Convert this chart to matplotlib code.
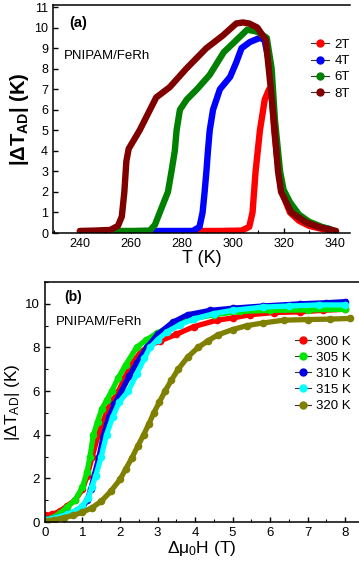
import matplotlib
matplotlib.use("Agg")
import matplotlib.pyplot as plt
from matplotlib.ticker import MultipleLocator
from matplotlib.lines import Line2D

plt.rcParams['font.family'] = ['Liberation Sans', 'DejaVu Sans']
plt.rcParams['mathtext.fontset'] = 'custom'
plt.rcParams['mathtext.rm'] = 'Liberation Sans'
plt.rcParams['mathtext.it'] = 'Liberation Sans:italic'
plt.rcParams['mathtext.bf'] = 'Liberation Sans:bold'

# panel (a): |dT_ad| vs T for several fields
a_labels = ["2T", "4T", "6T", "8T"]
a_colors = ["#ff0000", "#0000ff", "#008000", "#800000"]

t_2T = [284, 295, 303.5, 306.5, 307.8, 309, 310.7, 312.6, 314.3, 315.2, 316.3, 317.3, 318.4, 320, 322.5, 326, 330, 335, 340]
dt_2T = [0.1, 0.1, 0.12, 0.3, 1.0, 3.0, 5.0, 6.5, 7.0, 6.9, 5.0, 3.8, 2.8, 1.8, 1.0, 0.6, 0.35, 0.2, 0.1]

t_4T = [267.5, 276, 284.4, 287, 288.2, 289, 289.7, 290.3, 291, 292.3, 295, 299, 301.4, 303.5, 306.8, 310.7, 312.5, 314, 315.3, 316.5, 318, 319.5, 322.5, 326, 330, 334, 338]
dt_4T = [0.1, 0.1, 0.1, 0.3, 1.0, 2.0, 3.0, 4.0, 5.0, 6.0, 7.0, 7.6, 8.3, 9.0, 9.3, 9.5, 9.4, 8.5, 7.2, 5.2, 3.2, 2.1, 1.3, 0.8, 0.5, 0.3, 0.2]

t_6T = [254, 261, 267.5, 269.5, 271.4, 274.6, 276, 277.3, 278, 279.3, 282, 286, 291, 296.5, 302.4, 305.7, 309.7, 313.4, 315.3, 316.6, 318.6, 320, 322.5, 326, 330, 335, 339]
dt_6T = [0.1, 0.1, 0.12, 0.4, 1.0, 2.0, 3.0, 4.0, 5.0, 6.0, 6.5, 7.0, 7.7, 8.8, 9.5, 9.9, 9.8, 9.5, 8.0, 5.5, 3.0, 2.1, 1.5, 0.9, 0.55, 0.3, 0.15]

t_8T = [240, 246, 252, 255, 256.5, 257.5, 258.3, 259.2, 263.5, 270, 275.3, 281.8, 289.7, 296, 301.4, 304, 306.5, 309.7, 313, 315, 316.5, 317.8, 319, 323, 329, 335, 340.6]
dt_8T = [0.1, 0.12, 0.15, 0.35, 0.8, 2.0, 3.5, 4.1, 5.0, 6.6, 7.1, 8.0, 9.0, 9.6, 10.2, 10.25, 10.2, 10.0, 9.4, 7.0, 5.0, 3.0, 2.0, 1.0, 0.5, 0.25, 0.1]

# panel (b): |dT_ad| vs field change for several temperatures
b_labels = ["300 K", "305 K", "310 K", "315 K", "320 K"]
b_colors = ["#ff0000", "#00e600", "#0000e0", "#00ffff", "#808000"]

h_300 = [0.0, 0.2, 0.4, 0.6, 0.8, 1.0, 1.12, 1.26, 1.42, 1.55, 1.68, 1.82, 1.96, 2.12, 2.3, 2.55, 2.8, 3.07, 3.5, 3.96, 4.58, 5.0, 5.47, 6.1, 6.8, 7.4, 8.0]
v_300 = [0.3, 0.35, 0.5, 0.75, 1.0, 1.5, 2.1, 3.0, 4.0, 4.6, 5.2, 5.6, 6.0, 6.6, 7.2, 7.8, 8.1, 8.3, 8.6, 8.95, 9.25, 9.35, 9.5, 9.6, 9.63, 9.7, 9.75]

h_305 = [0.0, 0.2, 0.4, 0.6, 0.8, 1.0, 1.12, 1.2, 1.29, 1.4, 1.52, 1.65, 1.78, 1.95, 2.15, 2.44, 2.7, 2.98, 3.4, 3.9, 4.5, 5.2, 6.0, 7.0, 8.0]
v_305 = [0.1, 0.2, 0.4, 0.7, 1.0, 1.6, 2.3, 3.0, 4.0, 4.6, 5.2, 5.6, 6.0, 6.6, 7.2, 8.0, 8.35, 8.65, 9.0, 9.3, 9.5, 9.65, 9.7, 9.72, 9.75]

h_310 = [0.0, 0.3, 0.6, 0.84, 1.0, 1.12, 1.22, 1.32, 1.44, 1.56, 1.7, 1.85, 2.04, 2.25, 2.45, 2.71, 3.0, 3.4, 3.8, 4.4, 5.0, 5.8, 6.8, 7.5, 8.0]
v_310 = [0.1, 0.2, 0.35, 0.5, 0.65, 1.0, 1.5, 2.2, 3.0, 4.0, 4.8, 5.4, 6.0, 6.7, 7.3, 8.0, 8.6, 9.15, 9.5, 9.7, 9.8, 9.9, 10.0, 10.05, 10.1]

h_315 = [0.0, 0.3, 0.6, 0.85, 1.0, 1.15, 1.25, 1.35, 1.5, 1.64, 1.8, 1.98, 2.22, 2.45, 2.65, 2.8, 3.0, 3.24, 3.6, 3.96, 4.5, 5.0, 5.8, 6.5, 7.3, 8.0]
v_315 = [0.1, 0.2, 0.35, 0.55, 0.75, 1.1, 1.6, 2.1, 3.0, 4.0, 4.8, 5.5, 6.0, 6.8, 7.5, 8.0, 8.35, 8.7, 9.05, 9.3, 9.55, 9.7, 9.85, 9.9, 9.95, 9.95]

h_320 = [0.0, 0.25, 0.5, 0.75, 1.0, 1.25, 1.5, 1.75, 2.0, 2.16, 2.32, 2.48, 2.63, 2.77, 2.9, 3.05, 3.2, 3.37, 3.55, 3.8, 4.08, 4.34, 4.6, 5.0, 5.38, 5.8, 6.36, 7.0, 7.6, 8.13]
v_320 = [0.05, 0.1, 0.2, 0.3, 0.45, 0.65, 0.95, 1.4, 1.95, 2.45, 2.95, 3.5, 4.0, 4.5, 5.0, 5.5, 6.0, 6.5, 7.0, 7.55, 8.0, 8.3, 8.57, 8.82, 9.0, 9.12, 9.25, 9.28, 9.3, 9.33]

fig = plt.figure(figsize=(3.59, 5.63), dpi=100)

# ---- panel (a)
ax1 = fig.add_axes([0.1476, 0.5861, 0.827, 0.405])
for t, v, lab, c in zip([t_2T, t_4T, t_6T, t_8T], [dt_2T, dt_4T, dt_6T, dt_8T], a_labels, a_colors):
    ax1.plot(t, v, color=c, lw=4.6, solid_capstyle='round', solid_joinstyle='round', label=lab)
ax1.set_xlim(229.5, 346)
ax1.set_ylim(0, 11.1)
ax1.xaxis.set_major_locator(MultipleLocator(20))
ax1.xaxis.set_minor_locator(MultipleLocator(10))
ax1.yaxis.set_major_locator(MultipleLocator(1))
ax1.spines['right'].set_visible(False)
ax1.tick_params(direction='in', labelsize=9, length=3.5, width=1, top=False, right=False)
ax1.tick_params(which='minor', direction='in', length=2, width=0.8)
ax1.set_xlabel("T (K)", fontsize=13, labelpad=0)
ax1.set_ylabel(r"|ΔT$_{\bf AD}$| (K)", fontsize=14.5, fontweight='bold', labelpad=2)
ax1.text(0.055, 0.905, "(a)", transform=ax1.transAxes, fontsize=10.5, fontweight='bold')
ax1.text(0.035, 0.765, "PNIPAM/FeRh", transform=ax1.transAxes, fontsize=9.5)
hnd_a = [Line2D([], [], color='#333333', lw=0.8, marker='o', markersize=5,
                markerfacecolor=c, markeredgecolor=c) for c in a_colors]
ax1.legend(hnd_a, a_labels, loc='upper left', bbox_to_anchor=(0.85, 0.875), frameon=False,
           fontsize=9.5, handlelength=1.4, handletextpad=0.4, labelspacing=0.3, borderaxespad=0)
for s in ax1.spines.values():
    s.set_linewidth(1.1)

# ---- panel (b)
ax2 = fig.add_axes([0.1253, 0.0728, 0.8747, 0.4263])
for h, v, lab, c in zip([h_300, h_305, h_310, h_315, h_320], [v_300, v_305, v_310, v_315, v_320], b_labels, b_colors):
    ax2.plot(h, v, color=c, lw=3.8, marker='o', markersize=5.5, markeredgewidth=0, label=lab)
ax2.set_xlim(0, 8.37)
ax2.set_ylim(0, 11)
ax2.xaxis.set_major_locator(MultipleLocator(1))
ax2.xaxis.set_minor_locator(MultipleLocator(0.5))
ax2.yaxis.set_major_locator(MultipleLocator(2))
ax2.yaxis.set_minor_locator(MultipleLocator(1))
ax2.spines['right'].set_visible(False)
ax2.tick_params(direction='in', labelsize=9.5, length=3.5, width=1, top=False, right=False)
ax2.tick_params(which='minor', direction='in', length=2, width=0.8)
ax2.set_xlabel(r"Δμ$_0$H (T)", fontsize=12.5, labelpad=0)
ax2.set_ylabel(r"|ΔT$_{\rm AD}$| (K)", fontsize=12.5, labelpad=2)
ax2.text(0.06, 0.92, "(b)", transform=ax2.transAxes, fontsize=10, fontweight='bold')
ax2.text(0.035, 0.82, "PNIPAM/FeRh", transform=ax2.transAxes, fontsize=9.5)
hnd_b = [Line2D([], [], color='#333333', lw=0.8, marker='o', markersize=5,
                markerfacecolor=c, markeredgecolor=c) for c in b_colors]
ax2.legend(hnd_b, b_labels, loc='upper left', bbox_to_anchor=(0.78, 0.8), frameon=False,
           fontsize=9.5, handlelength=1.2, handletextpad=0.4, labelspacing=0.3, borderaxespad=0)
for s in ax2.spines.values():
    s.set_linewidth(1.1)

fig.savefig("out.png", dpi=100)
